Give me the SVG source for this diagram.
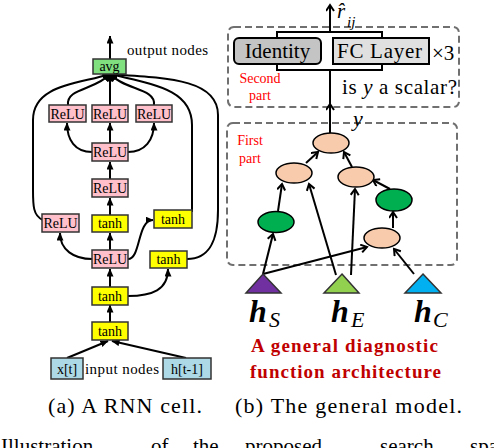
<svg xmlns="http://www.w3.org/2000/svg" width="494" height="448" viewBox="0 0 494 448" font-family="'Liberation Serif', 'Times New Roman', serif">
<defs>
<marker id="fa" markerUnits="userSpaceOnUse" markerWidth="8" markerHeight="8" refX="7.5" refY="3.5" orient="auto">
<path d="M0,0 L8,3.5 L0,7 z" fill="#000"/>
</marker>
<marker id="oa" markerUnits="userSpaceOnUse" markerWidth="10" markerHeight="10" refX="7" refY="4.5" orient="auto">
<path d="M1,0.5 L7,4.5 L1,8.5" fill="none" stroke="#000" stroke-width="2"/>
</marker>
<style>
text{font-family:"Liberation Serif","Times New Roman",serif;fill:#000}
.box{stroke:#333;stroke-width:1.5}
.relu{fill:#ffc0cb}
.tanh{fill:#ffff00}
.inp{fill:#add8e6}
.avg{fill:#80e080}
.bt{font-size:14px;text-anchor:middle}
.lc path,.lc line{fill:none;stroke:#000;stroke-width:2;marker-end:url(#fa)}
.rc path,.rc line{fill:none;stroke:#000;stroke-width:2;marker-end:url(#oa)}
.dash{fill:none;stroke:#707070;stroke-width:2;stroke-dasharray:7 4}
.peach{fill:#f8cbad;stroke:#000;stroke-width:1.5}
.grn{fill:#00b050;stroke:#000;stroke-width:1.5}
.red{fill:#ff0000;font-size:14px}
.hl{font-size:32px;font-weight:bold;font-style:italic}
.sub{font-size:22px;font-style:italic}
.dred{fill:#c00000;font-size:19px;font-weight:bold}
</style>
</defs>

<!-- (a) left diagram connectors -->
<g id="left-connectors" class="lc">
<line x1="110" y1="59" x2="110" y2="36"/>
<line x1="67" y1="358" x2="108" y2="341"/>
<line x1="186" y1="358" x2="112" y2="341"/>
<line x1="110" y1="322" x2="110" y2="305"/>
<line x1="110" y1="287" x2="110" y2="269"/>
<path d="M128,296 C152,296 168,290 168,269"/>
<path d="M92,259 C74,259 60,250 60,233"/>
<path d="M128,259 C141,259 137,220 153,220"/>
<line x1="110" y1="250" x2="110" y2="233"/>
<line x1="110" y1="215" x2="110" y2="198"/>
<line x1="110" y1="179" x2="110" y2="162"/>
<path d="M92,152 C75,152 67,140 67,123"/>
<path d="M128,152 C145,152 154,140 154,123"/>
<line x1="110" y1="143" x2="110" y2="123"/>
<line x1="110" y1="105" x2="110" y2="74"/>
<path d="M68,105 C66,88 96,90 110,74"/>
<path d="M154,105 C156,88 124,90 110,74"/>
<path d="M43,220 C33,216 33,205 33,190 L33,120 C33,84 80,84 110,74"/>
<path d="M192,212 L192,125 C192,88 150,84 110,74"/>
<path d="M187,259 C210,259 218,240 218,210 L218,115 C218,80 170,78 110,74"/>
</g>

<!-- (a) nodes -->
<g id="avg"><rect class="box avg" x="93" y="59" width="33" height="15"/><text class="bt" x="109.5" y="71" font-size="15">avg</text></g>
<text x="127" y="55" font-size="15" textLength="81">output nodes</text>
<g id="relu-top-left"><rect class="box relu" x="49" y="105" width="37" height="17"/><text class="bt" x="67.5" y="119">ReLU</text></g>
<g id="relu-top-mid"><rect class="box relu" x="92" y="105" width="36" height="17"/><text class="bt" x="110" y="119">ReLU</text></g>
<g id="relu-top-right"><rect class="box relu" x="136" y="105" width="36" height="17"/><text class="bt" x="154" y="119">ReLU</text></g>
<g id="relu-mid"><rect class="box relu" x="92" y="143" width="36" height="18"/><text class="bt" x="110" y="157">ReLU</text></g>
<g id="relu-3"><rect class="box relu" x="92" y="179" width="36" height="18"/><text class="bt" x="110" y="193">ReLU</text></g>
<g id="relu-left"><rect class="box relu" x="42" y="214" width="37" height="18"/><text class="bt" x="60.5" y="228">ReLU</text></g>
<g id="tanh-center"><rect class="box tanh" x="92" y="215" width="36" height="17"/><text class="bt" x="110" y="228" font-size="15">tanh</text></g>
<g id="tanh-right-up"><rect class="box tanh" x="154" y="210" width="38" height="18"/><text class="bt" x="173" y="224" font-size="15">tanh</text></g>
<g id="relu-low"><rect class="box relu" x="92" y="250" width="36" height="18"/><text class="bt" x="110" y="264">ReLU</text></g>
<g id="tanh-right-low"><rect class="box tanh" x="150" y="251" width="37" height="17"/><text class="bt" x="168.5" y="264" font-size="15">tanh</text></g>
<g id="tanh-2"><rect class="box tanh" x="92" y="287" width="36" height="18"/><text class="bt" x="110" y="301" font-size="15">tanh</text></g>
<g id="tanh-1"><rect class="box tanh" x="92" y="322" width="36" height="18"/><text class="bt" x="110" y="336" font-size="15">tanh</text></g>
<g id="xt"><rect class="box inp" x="51" y="358" width="32" height="21"/><text class="bt" x="67" y="374" font-size="15">x[t]</text></g>
<text x="85" y="374" font-size="15" textLength="74">input nodes</text>
<g id="ht1"><rect class="box inp" x="163" y="358" width="48" height="21"/><text class="bt" x="187" y="374" font-size="15">h[t-1]</text></g>
<text x="48" y="413" font-size="22" textLength="154">(a) A RNN cell.</text>

<!-- (b) right diagram -->
<rect class="dash" x="228" y="27" width="231" height="80" rx="6"/>
<rect class="dash" x="227" y="123" width="230" height="142" rx="6"/>
<g id="second-part-label"><text class="red" x="260" y="83" text-anchor="middle">Second</text><text class="red" x="260" y="100" text-anchor="middle">part</text></g>
<g id="first-part-label"><text class="red" x="250" y="145" text-anchor="middle" font-size="15">First</text><text class="red" x="250" y="163" text-anchor="middle" font-size="15">part</text></g>

<g id="right-connectors">
<g fill="none" stroke="#000" stroke-width="2">
<path d="M277,38 L277,32 L382,32 L382,38"/>
<path d="M277,64 L277,70 L382,70 L382,64"/>
<line x1="330" y1="104" x2="330" y2="70"/>
</g>
<g class="rc">
<line x1="330" y1="32" x2="330" y2="5"/>
<line x1="330" y1="133" x2="330" y2="104"/>
<line x1="263" y1="274" x2="273" y2="234"/>
<line x1="263" y1="274" x2="367" y2="247"/>
<line x1="278" y1="211" x2="282" y2="184"/>
<line x1="336" y1="275" x2="309" y2="184"/>
<line x1="351" y1="275" x2="355" y2="189"/>
<line x1="414" y1="274" x2="394" y2="249"/>
<line x1="393" y1="228" x2="393" y2="212"/>
<line x1="390" y1="189" x2="373" y2="180"/>
<line x1="306" y1="163" x2="318" y2="152"/>
<line x1="352" y1="167" x2="344" y2="152"/>
</g>
</g>

<g id="identity"><rect x="234" y="38" width="87" height="26" rx="5" fill="#c4c4c4" stroke="#000" stroke-width="2"/><text x="277.5" y="58" font-size="21" text-anchor="middle">Identity</text></g>
<g id="fc-layer"><rect x="333" y="38" width="96" height="26" fill="#e0e0e0" stroke="#000" stroke-width="2"/><text x="337" y="58" font-size="21" textLength="85">FC Layer</text></g>
<text x="432" y="60" font-size="21">×3</text>
<text x="342" y="94" font-size="21" textLength="115">is <tspan font-style="italic">y</tspan> a scalar?</text>
<text x="337" y="18" font-size="21" font-style="italic">r̂</text>
<text x="347" y="27" font-size="15" font-style="italic">ij</text>
<text x="353" y="126" font-size="22" font-style="italic">y</text>

<g id="n-top"><ellipse class="peach" cx="331" cy="143" rx="18" ry="10"/></g>
<g id="n-left"><ellipse class="peach" cx="294" cy="173" rx="18" ry="10"/></g>
<g id="n-right"><ellipse class="peach" cx="356" cy="177" rx="18" ry="10"/></g>
<g id="g-left"><ellipse class="grn" cx="276" cy="222" rx="18" ry="10.5"/></g>
<g id="g-right"><ellipse class="grn" cx="394" cy="200" rx="18" ry="11"/></g>
<g id="n-bottom"><ellipse class="peach" cx="382" cy="238" rx="18" ry="10"/></g>

<g id="hS"><polygon points="263,274 281,293 246,293" fill="#7030a0" stroke="#333" stroke-width="1.5"/><text class="hl" x="249" y="322">h</text><text class="sub" x="269" y="327">S</text></g>
<g id="hE"><polygon points="342,274 359,293 324,293" fill="#92d050" stroke="#333" stroke-width="1.5"/><text class="hl" x="331" y="322">h</text><text class="sub" x="351" y="327">E</text></g>
<g id="hC"><polygon points="423,274 441,293 405,293" fill="#00b0f0" stroke="#333" stroke-width="1.5"/><text class="hl" x="414" y="322">h</text><text class="sub" x="433" y="327">C</text></g>

<text class="dred" x="251" y="352" textLength="187">A general diagnostic</text>
<text class="dred" x="250" y="378" textLength="191">function architecture</text>
<text x="235" y="413" font-size="22" textLength="227">(b) The general model.</text>

<text font-size="21" y="453"><tspan x="1">Illustration</tspan><tspan x="151">of</tspan><tspan x="193">the</tspan><tspan x="245">proposed</tspan><tspan x="380">search</tspan><tspan x="470">space</tspan></text>
</svg>
